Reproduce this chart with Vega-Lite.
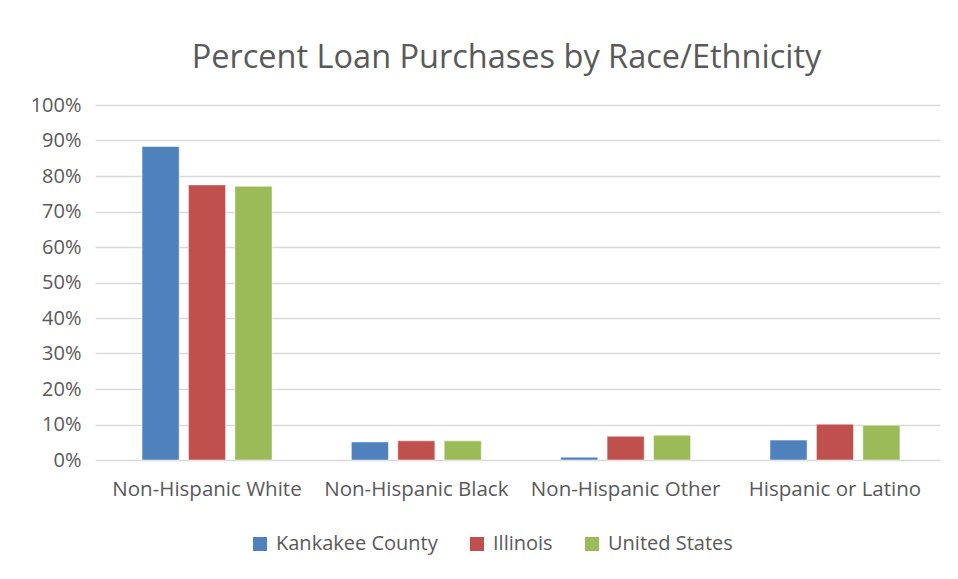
{
  "$schema": "https://vega.github.io/schema/vega-lite/v6.json",
  "width": 845,
  "height": 355,
  "autosize": {"type": "none"},
  "padding": {"left": 95, "top": 105, "right": 18, "bottom": 119},
  "background": "white",
  "title": {
    "text": "Percent Loan Purchases by Race/Ethnicity",
    "font": "Open Sans",
    "fontSize": 32.5,
    "fontWeight": "normal",
    "color": "#595959",
    "anchor": "middle",
    "dx": -11,
    "offset": 21
  },
  "data": {
    "values": [
      {"category": "Non-Hispanic White", "series": "Kankakee County", "pct": 88.3},
      {"category": "Non-Hispanic White", "series": "Illinois", "pct": 77.5},
      {"category": "Non-Hispanic White", "series": "United States", "pct": 77.1},
      {"category": "Non-Hispanic Black", "series": "Kankakee County", "pct": 5.1},
      {"category": "Non-Hispanic Black", "series": "Illinois", "pct": 5.4},
      {"category": "Non-Hispanic Black", "series": "United States", "pct": 5.4},
      {"category": "Non-Hispanic Other", "series": "Kankakee County", "pct": 0.8},
      {"category": "Non-Hispanic Other", "series": "Illinois", "pct": 6.7},
      {"category": "Non-Hispanic Other", "series": "United States", "pct": 7.0},
      {"category": "Hispanic or Latino", "series": "Kankakee County", "pct": 5.6},
      {"category": "Hispanic or Latino", "series": "Illinois", "pct": 10.1},
      {"category": "Hispanic or Latino", "series": "United States", "pct": 9.8}
    ]
  },
  "mark": {"type": "bar", "stroke": "white", "strokeOpacity": 0.5, "strokeWidth": 1},
  "encoding": {
    "x": {
      "field": "category",
      "type": "nominal",
      "sort": ["Non-Hispanic White", "Non-Hispanic Black", "Non-Hispanic Other", "Hispanic or Latino"],
      "scale": {"paddingInner": 0.379, "paddingOuter": 0.208, "align": 0.54},
      "axis": {
        "title": null,
        "labelAngle": 0,
        "labelFont": "Open Sans",
        "labelFontSize": 20.5,
        "labelColor": "#595959",
        "labelPadding": 19,
        "labelLimit": 0,
        "ticks": false,
        "domain": false,
        "grid": false
      }
    },
    "xOffset": {
      "field": "series",
      "type": "nominal",
      "sort": ["Kankakee County", "Illinois", "United States"],
      "scale": {"paddingInner": 0.2}
    },
    "y": {
      "field": "pct",
      "type": "quantitative",
      "scale": {"domain": [0, 100], "nice": false},
      "axis": {
        "title": null,
        "values": [0, 10, 20, 30, 40, 50, 60, 70, 80, 90, 100],
        "labelExpr": "datum.value + '%'",
        "labelFont": "Open Sans",
        "labelFontSize": 20,
        "labelColor": "#595959",
        "labelPadding": 14,
        "ticks": false,
        "domain": false,
        "grid": true,
        "gridColor": "#d9d9d9",
        "gridWidth": 1.5
      }
    },
    "color": {
      "field": "series",
      "type": "nominal",
      "sort": ["Kankakee County", "Illinois", "United States"],
      "scale": {
        "domain": ["Kankakee County", "Illinois", "United States"],
        "range": ["#4f81bd", "#c0504d", "#9bbb59"]
      },
      "legend": {
        "title": null,
        "orient": "none",
        "direction": "horizontal",
        "legendX": 155,
        "legendY": 429,
        "symbolType": "square",
        "symbolSize": 196,
        "symbolStrokeWidth": 0,
        "labelFont": "Open Sans",
        "labelFontSize": 20,
        "labelColor": "#595959",
        "labelOffset": 6,
        "labelLimit": 0,
        "columnPadding": 29
      }
    }
  },
  "config": {
    "view": {"stroke": null}
  }
}
